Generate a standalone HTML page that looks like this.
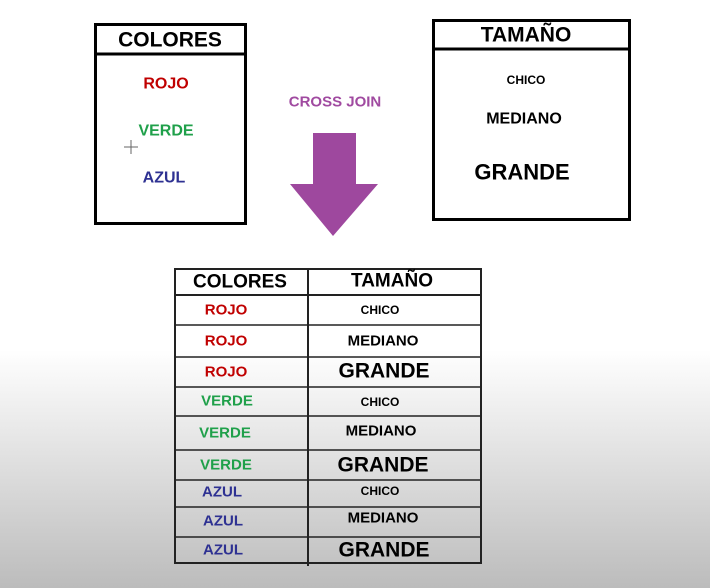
<!DOCTYPE html>
<html><head><meta charset="utf-8"><style>
html,body{margin:0;padding:0}
body{width:710px;height:588px;overflow:hidden;background:linear-gradient(to bottom,#fff 0px,#fff 350px,#bcbcbc 588px);}
svg{display:block}
text{font-family:"Liberation Sans",sans-serif;font-weight:bold;text-anchor:middle;dominant-baseline:central}
</style></head><body>
<svg width="710" height="588" xmlns="http://www.w3.org/2000/svg">
<!-- COLORES box -->
<rect x="95.5" y="24.5" width="150" height="199" fill="#fff" stroke="#000" stroke-width="3"/>
<line x1="95" y1="54" x2="246" y2="54" stroke="#000" stroke-width="3"/>
<text x="170" y="40" font-size="21" fill="#000">COLORES</text>
<text x="166" y="84" font-size="16" fill="#c00000">ROJO</text>
<text x="166" y="131" font-size="16" fill="#1fa04a">VERDE</text>
<text x="164" y="178" font-size="16" fill="#2e3192">AZUL</text>
<g stroke="#666" stroke-width="1"><line x1="124" y1="147" x2="138" y2="147"/><line x1="131" y1="140" x2="131" y2="154"/></g>
<!-- TAMAÑO box -->
<rect x="433.5" y="20.5" width="196" height="199" fill="#fff" stroke="#000" stroke-width="3"/>
<line x1="433" y1="49" x2="630" y2="49" stroke="#000" stroke-width="3"/>
<text x="526" y="35" font-size="21" fill="#000">TAMAÑO</text>
<text x="526" y="80" font-size="12" fill="#000">CHICO</text>
<text x="524" y="119" font-size="16" fill="#000">MEDIANO</text>
<text x="522" y="172" font-size="22" fill="#000">GRANDE</text>
<!-- cross join -->
<text x="335" y="102" font-size="15" fill="#a04aa0">CROSS JOIN</text>
<polygon points="313,133 356,133 356,184 378,184 333,236 290,184 313,184" fill="#9e489e"/>
<!-- table -->
<g stroke="#222" fill="none">
<rect x="175" y="269" width="306" height="294" stroke-width="2"/>
<line x1="308" y1="269" x2="308" y2="566" stroke-width="2"/>
<line x1="175" y1="295" x2="481" y2="295" stroke-width="2"/>
<line x1="175" y1="325" x2="481" y2="325" stroke-width="1.5"/>
<line x1="175" y1="357" x2="481" y2="357" stroke-width="1.5"/>
<line x1="175" y1="387" x2="481" y2="387" stroke-width="1.5"/>
<line x1="175" y1="416" x2="481" y2="416" stroke-width="1.5"/>
<line x1="175" y1="450" x2="481" y2="450" stroke-width="1.5"/>
<line x1="175" y1="480" x2="481" y2="480" stroke-width="1.5"/>
<line x1="175" y1="507" x2="481" y2="507" stroke-width="1.5"/>
<line x1="175" y1="537" x2="481" y2="537" stroke-width="1.5"/>
</g>
<text x="240" y="282" font-size="19" fill="#000">COLORES</text>
<text x="392" y="281" font-size="19" fill="#000">TAMAÑO</text>
<g font-size="15">
<text x="226" y="310" fill="#c00000">ROJO</text>
<text x="226" y="341" fill="#c00000">ROJO</text>
<text x="226" y="372" fill="#c00000">ROJO</text>
<text x="227" y="401" fill="#1fa04a">VERDE</text>
<text x="225" y="433" fill="#1fa04a">VERDE</text>
<text x="226" y="465" fill="#1fa04a">VERDE</text>
<text x="222" y="492" fill="#2e3192">AZUL</text>
<text x="223" y="521" fill="#2e3192">AZUL</text>
<text x="223" y="550" fill="#2e3192">AZUL</text>
</g>
<g fill="#000">
<text x="380" y="310" font-size="12">CHICO</text>
<text x="383" y="341" font-size="15">MEDIANO</text>
<text x="384" y="371" font-size="21">GRANDE</text>
<text x="380" y="402" font-size="12">CHICO</text>
<text x="381" y="431" font-size="15">MEDIANO</text>
<text x="383" y="465" font-size="21">GRANDE</text>
<text x="380" y="491" font-size="12">CHICO</text>
<text x="383" y="518" font-size="15">MEDIANO</text>
<text x="384" y="550" font-size="21">GRANDE</text>
</g>
</svg>
</body></html>
